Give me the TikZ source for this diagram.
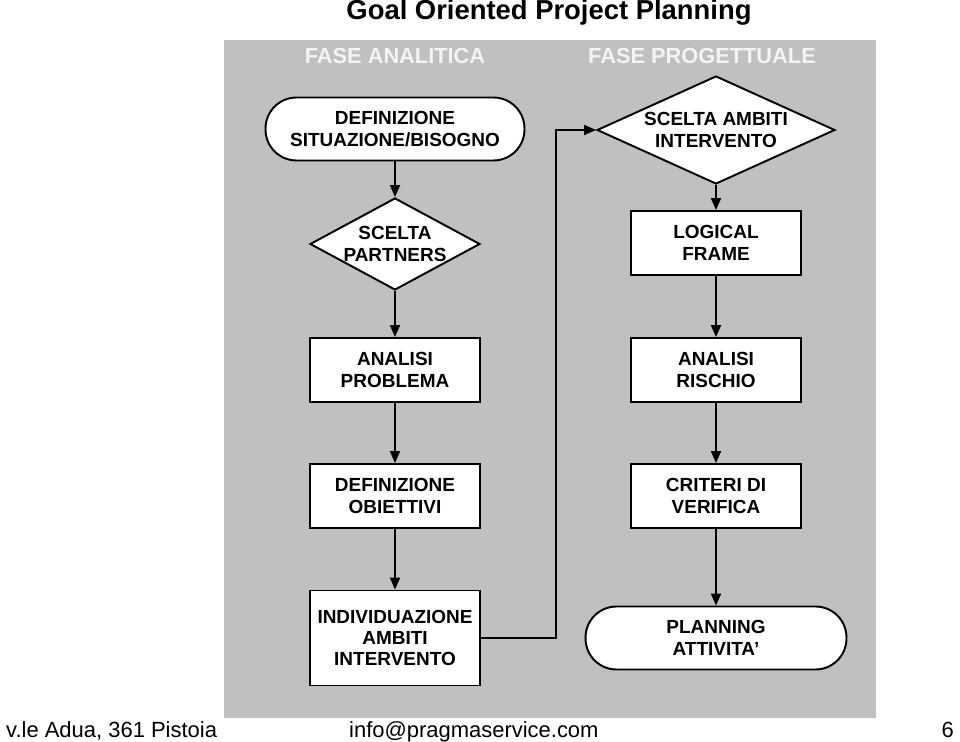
\documentclass[tikz,border=0pt]{standalone}
\usepackage{fontspec}
\setmainfont{Liberation Sans}
\usetikzlibrary{arrows.meta, positioning, shapes.geometric}
\definecolor{panelgray}{HTML}{C0C0C0}
\definecolor{phasewhite}{HTML}{F4F4F4}

\begin{document}
\begin{tikzpicture}[x=0.02cm, y=-0.02cm,
    box/.style={rectangle, draw, fill=white, line width=1.1pt,
                minimum width=3.4cm, minimum height=1.28cm, align=center,
                font=\fontsize{10.8}{12.2}\selectfont\bfseries},
    term/.style={rectangle, draw, fill=white, line width=1.1pt,
                 rounded corners=0.62cm, minimum height=1.26cm, align=center,
                 font=\fontsize{10.8}{12.2}\selectfont\bfseries},
    choice/.style={diamond, draw, fill=white, line width=1.1pt, inner sep=-5pt,
                   align=center, font=\fontsize{10.8}{12.2}\selectfont\bfseries},
    phase/.style={text=phasewhite, font=\fontsize{12.4}{14}\selectfont\bfseries},
    foot/.style={anchor=base west, font=\fontsize{12.5}{14}\selectfont},
    arrow/.style={-{Triangle[length=2.4mm, width=2mm]}, line width=1.1pt}
]
    \useasboundingbox (0,0) rectangle (960,742);
    \fill[panelgray] (224,40) rectangle (876,718);

    \node[font=\fontsize{15.6}{18}\selectfont\bfseries] (title) at (549,12) {Goal Oriented Project Planning};
    \node[phase] (ph1) at (395,56) {FASE ANALITICA};
    \node[phase] (ph2) at (702,56) {FASE PROGETTUALE};

    \node[term, minimum width=5.18cm] (defsit) at (395,129) {DEFINIZIONE\\SITUAZIONE/BISOGNO};
    \node[choice, minimum width=3.4cm, minimum height=1.84cm, aspect=1.85] (partners) at (395,244) {SCELTA\\PARTNERS};
    \node[box] (problema) at (395,370) {ANALISI\\PROBLEMA};
    \node[box] (obiettivi) at (395,496) {DEFINIZIONE\\OBIETTIVI};
    \node[box, minimum height=1.9cm] (individ) at (395,638) {INDIVIDUAZIONE\\AMBITI\\INTERVENTO};

    \node[choice, minimum width=4.76cm, minimum height=2.16cm, aspect=2.2] (ambiti) at (716,130) {SCELTA AMBITI\\INTERVENTO};
    \node[box] (logframe) at (716,243) {LOGICAL\\FRAME};
    \node[box] (rischio) at (716,370) {ANALISI\\RISCHIO};
    \node[box] (verifica) at (716,496) {CRITERI DI\\VERIFICA};
    \node[term, minimum width=5.22cm] (planning) at (716,638) {PLANNING\\ATTIVITA’};

    \coordinate (bend) at (556,130);

    \draw[arrow] (defsit) -- (partners);
    \draw[arrow] (partners) -- (problema);
    \draw[arrow] (problema) -- (obiettivi);
    \draw[arrow] (obiettivi) -- (individ);
    \draw[arrow] (individ.east) -| (bend) -- (ambiti.west);
    \draw[arrow] (ambiti) -- (logframe);
    \draw[arrow] (logframe) -- (rischio);
    \draw[arrow] (rischio) -- (verifica);
    \draw[arrow] (verifica) -- (planning);

    \node[foot] (addr) at (0,737) {v.le Adua, 361 Pistoia};
    \node[foot] (mail) at (343,737) {info@pragmaservice.com};
    \node[foot, anchor=base east] (page) at (960,737) {6};
\end{tikzpicture}
\end{document}
